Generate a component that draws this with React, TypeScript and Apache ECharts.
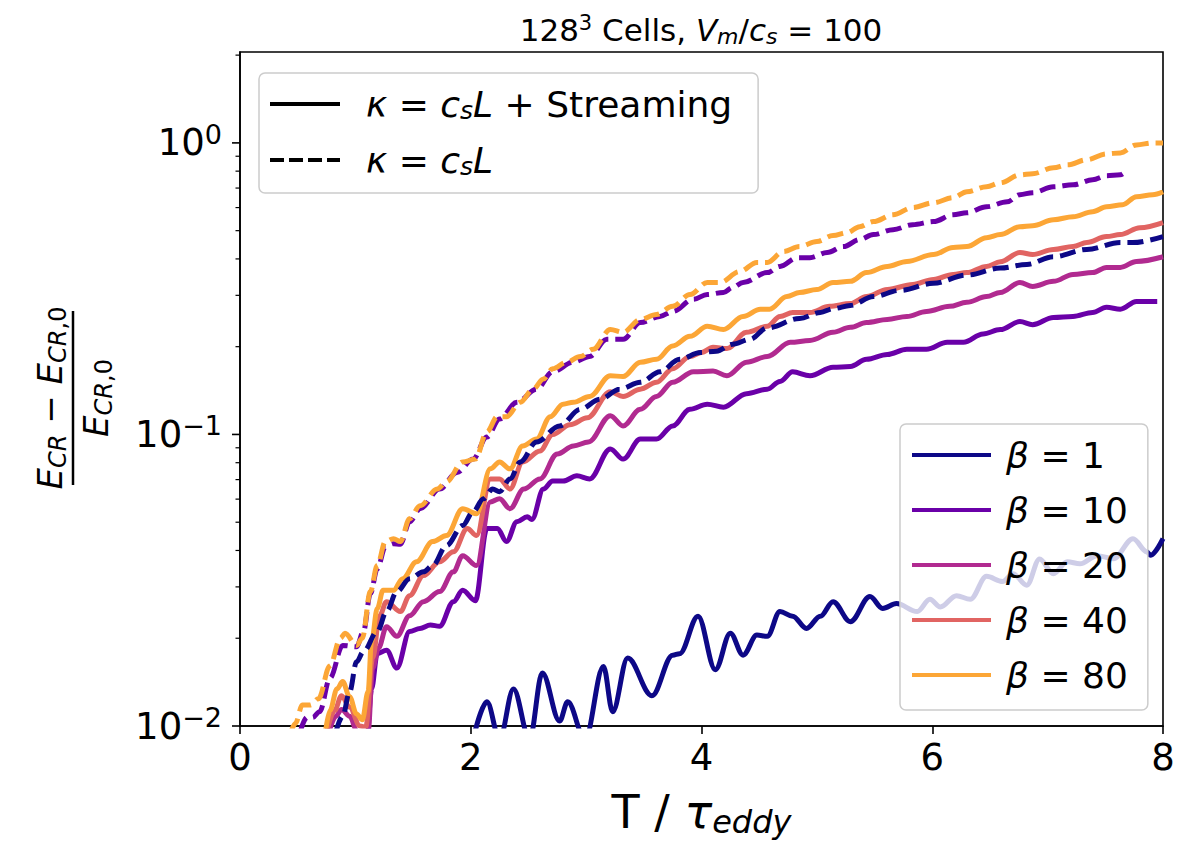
import React, { useEffect, useRef } from 'react';
import * as echarts from 'echarts';

const FONT = "'DejaVu Sans', sans-serif";

const betaLabels = ['β = 1', 'β = 10', 'β = 20', 'β = 40', 'β = 80'];
const betaColors = ['#0d0887', '#6a00a8', '#b12a90', '#e16462', '#fca636'];
const xTickValues = [0, 2, 4, 6, 8];
const yMajorTicks = [0.01, 0.1, 1];
const yMinorTicks = [0.02, 0.03, 0.04, 0.05, 0.06, 0.07, 0.08, 0.09, 0.2, 0.3, 0.4, 0.5, 0.6, 0.7, 0.8, 0.9, 2];

// κ = c_s L + Streaming
const streamB1: [number, number][] = [
  [2.02, 0.009], [2.14, 0.0121], [2.25, 0.009], [2.37, 0.0134], [2.51, 0.009], [2.62, 0.0152], [2.77, 0.0104], [2.84, 0.0121],
  [2.99, 0.009], [3.15, 0.016], [3.23, 0.0112], [3.36, 0.0171], [3.57, 0.0127], [3.75, 0.0175], [3.81, 0.0177], [3.97, 0.0238],
  [4.12, 0.0156], [4.25, 0.0208], [4.36, 0.0175], [4.48, 0.0205], [4.57, 0.0203], [4.68, 0.0247], [4.79, 0.0238], [4.91, 0.0216],
  [5.03, 0.0238], [5.14, 0.0267], [5.29, 0.0228], [5.46, 0.0278], [5.57, 0.0253], [5.69, 0.0263], [5.87, 0.0247], [5.98, 0.0272],
  [6.07, 0.0256], [6.21, 0.028], [6.33, 0.0272], [6.47, 0.0326], [6.61, 0.0313], [6.7, 0.0333], [6.82, 0.0304], [6.93, 0.0374],
  [7.05, 0.0333], [7.17, 0.0366], [7.28, 0.036], [7.43, 0.0384], [7.57, 0.0375], [7.74, 0.0439], [7.86, 0.0396], [7.89, 0.0385],
  [8.0, 0.0439],
];
const streamB10: [number, number][] = [
  [1.11, 0.0095], [1.14, 0.0134], [1.19, 0.0177], [1.27, 0.0182], [1.36, 0.0158], [1.47, 0.0211], [1.56, 0.0216], [1.65, 0.0222],
  [1.73, 0.022], [1.85, 0.0267], [1.93, 0.0292], [2.04, 0.0269], [2.14, 0.0476], [2.23, 0.0476], [2.31, 0.0429], [2.4, 0.0502],
  [2.49, 0.0522], [2.53, 0.0511], [2.63, 0.065], [2.71, 0.0692], [2.8, 0.0692], [2.92, 0.0721], [3.03, 0.0704], [3.21, 0.0892],
  [3.32, 0.0823], [3.47, 0.0964], [3.61, 0.0964], [3.75, 0.107], [3.9, 0.122], [4.05, 0.127], [4.19, 0.124], [4.39, 0.138],
  [4.57, 0.143], [4.68, 0.152], [4.79, 0.164], [4.94, 0.159], [5.14, 0.17], [5.29, 0.171], [5.43, 0.181], [5.61, 0.188],
  [5.78, 0.196], [5.95, 0.196], [6.13, 0.207], [6.27, 0.207], [6.44, 0.221], [6.59, 0.229], [6.76, 0.244], [6.87, 0.238],
  [7.05, 0.252], [7.22, 0.254], [7.39, 0.262], [7.51, 0.273], [7.63, 0.269], [7.77, 0.286], [7.95, 0.286],
];
const streamB20: [number, number][] = [
  [0.77, 0.0095], [0.83, 0.0108], [0.88, 0.0114], [0.95, 0.0108], [1.02, 0.0095], [1.11, 0.0095], [1.15, 0.0158], [1.2, 0.0185],
  [1.27, 0.0219], [1.36, 0.0203], [1.47, 0.0239], [1.59, 0.0267], [1.73, 0.0289], [1.85, 0.0338], [1.93, 0.0384], [2.05, 0.0355],
  [2.17, 0.0587], [2.25, 0.0602], [2.34, 0.0556], [2.46, 0.065], [2.6, 0.0704], [2.75, 0.0857], [2.89, 0.0913], [3.02, 0.0942],
  [3.21, 0.116], [3.32, 0.107], [3.47, 0.122], [3.61, 0.135], [3.75, 0.151], [3.93, 0.164], [4.1, 0.165], [4.22, 0.159],
  [4.39, 0.177], [4.57, 0.185], [4.77, 0.207], [4.94, 0.21], [5.14, 0.224], [5.29, 0.233], [5.43, 0.242], [5.61, 0.248],
  [5.78, 0.254], [5.95, 0.264], [6.15, 0.275], [6.3, 0.284], [6.47, 0.297], [6.59, 0.307], [6.76, 0.332], [6.87, 0.322],
  [7.05, 0.335], [7.22, 0.354], [7.39, 0.359], [7.51, 0.374], [7.63, 0.374], [7.77, 0.392], [8.0, 0.407],
];
const streamB40: [number, number][] = [
  [0.75, 0.0095], [0.82, 0.0113], [0.88, 0.0127], [0.95, 0.0116], [1.04, 0.01], [1.09, 0.0099], [1.15, 0.0171], [1.21, 0.0239],
  [1.27, 0.0267], [1.39, 0.0247], [1.47, 0.028], [1.59, 0.0328], [1.73, 0.0366], [1.85, 0.0396], [1.97, 0.0476], [2.05, 0.045],
  [2.17, 0.0704], [2.25, 0.0704], [2.34, 0.065], [2.45, 0.0805], [2.6, 0.0878], [2.71, 0.1], [2.86, 0.108], [3.01, 0.114],
  [3.21, 0.14], [3.32, 0.135], [3.47, 0.143], [3.61, 0.151], [3.75, 0.168], [3.9, 0.185], [4.0, 0.191], [4.1, 0.199],
  [4.22, 0.197], [4.39, 0.224], [4.57, 0.235], [4.68, 0.254], [4.79, 0.262], [4.94, 0.262], [5.11, 0.275], [5.29, 0.281],
  [5.43, 0.297], [5.61, 0.314], [5.83, 0.327], [6.01, 0.34], [6.18, 0.354], [6.3, 0.359], [6.47, 0.377], [6.59, 0.391],
  [6.76, 0.421], [6.87, 0.414], [7.05, 0.431], [7.22, 0.441], [7.34, 0.455], [7.51, 0.477], [7.63, 0.485], [7.8, 0.512],
  [8.0, 0.533],
];
const streamB80: [number, number][] = [
  [0.74, 0.0095], [0.78, 0.0113], [0.84, 0.0134], [0.89, 0.0142], [0.95, 0.0126], [1.01, 0.011], [1.06, 0.0105], [1.11, 0.0131],
  [1.14, 0.0195], [1.19, 0.0253], [1.24, 0.0292], [1.33, 0.0292], [1.41, 0.032], [1.53, 0.0366], [1.67, 0.0429], [1.79, 0.045],
  [1.93, 0.0556], [2.05, 0.0535], [2.17, 0.0762], [2.25, 0.0805], [2.34, 0.0762], [2.45, 0.0913], [2.57, 0.0964], [2.69, 0.115],
  [2.8, 0.127], [2.89, 0.129], [3.03, 0.135], [3.21, 0.159], [3.32, 0.158], [3.47, 0.177], [3.61, 0.181], [3.75, 0.201],
  [3.9, 0.217], [4.05, 0.235], [4.19, 0.229], [4.36, 0.254], [4.51, 0.269], [4.59, 0.269], [4.74, 0.297], [4.85, 0.307],
  [5.0, 0.314], [5.14, 0.332], [5.29, 0.335], [5.43, 0.359], [5.61, 0.377], [5.78, 0.392], [6.01, 0.414], [6.18, 0.438],
  [6.3, 0.441], [6.47, 0.473], [6.59, 0.485], [6.76, 0.516], [6.87, 0.52], [7.05, 0.545], [7.22, 0.558], [7.39, 0.581],
  [7.51, 0.604], [7.65, 0.614], [7.77, 0.654], [7.91, 0.664], [8.0, 0.68],
];

// κ = c_s L (no streaming)
const diffB1: [number, number][] = [
  [0.83, 0.0095], [0.89, 0.0108], [0.95, 0.0131], [1.01, 0.0166], [1.07, 0.018], [1.19, 0.0211], [1.27, 0.0247], [1.36, 0.0289],
  [1.47, 0.032], [1.59, 0.0338], [1.67, 0.0355], [1.79, 0.0416], [1.93, 0.0487], [2.02, 0.0543], [2.11, 0.0602], [2.19, 0.065],
  [2.25, 0.0636], [2.34, 0.0704], [2.43, 0.0805], [2.57, 0.0942], [2.77, 0.107], [2.95, 0.122], [3.12, 0.132], [3.29, 0.143],
  [3.47, 0.151], [3.64, 0.164], [3.81, 0.181], [3.99, 0.191], [4.13, 0.193], [4.27, 0.204], [4.42, 0.212], [4.57, 0.232],
  [4.85, 0.25], [5.03, 0.262], [5.14, 0.27], [5.29, 0.277], [5.49, 0.297], [5.72, 0.312], [6.01, 0.33], [6.3, 0.352],
  [6.59, 0.372], [6.82, 0.383], [7.05, 0.407], [7.34, 0.431], [7.63, 0.455], [7.74, 0.455], [8.0, 0.477],
];
const diffB10: [number, number][] = [
  [0.52, 0.0095], [0.58, 0.0107], [0.63, 0.0107], [0.69, 0.0112], [0.78, 0.0146], [0.89, 0.0189], [1.01, 0.0187], [1.07, 0.0211],
  [1.13, 0.0284], [1.19, 0.0346], [1.26, 0.0412], [1.33, 0.0422], [1.39, 0.042], [1.47, 0.0502], [1.56, 0.0556], [1.73, 0.065],
  [1.88, 0.074], [2.02, 0.0823], [2.14, 0.098], [2.25, 0.113], [2.4, 0.129], [2.57, 0.143], [2.71, 0.164], [2.89, 0.177],
  [3.03, 0.185], [3.18, 0.212], [3.32, 0.212], [3.47, 0.242], [3.64, 0.254], [3.75, 0.264], [3.93, 0.291], [4.05, 0.302],
  [4.19, 0.307], [4.27, 0.319], [4.36, 0.332], [4.57, 0.359], [4.68, 0.377], [4.83, 0.404], [4.94, 0.404], [5.09, 0.421],
  [5.23, 0.441], [5.37, 0.466], [5.49, 0.485], [5.66, 0.504], [5.83, 0.524], [6.01, 0.537], [6.18, 0.567], [6.3, 0.576],
  [6.47, 0.604], [6.65, 0.628], [6.76, 0.664], [6.87, 0.675], [7.05, 0.707], [7.22, 0.718], [7.39, 0.747], [7.51, 0.771],
  [7.63, 0.777], [7.69, 0.809],
];
const diffB80: [number, number][] = [
  [0.44, 0.0095], [0.48, 0.0102], [0.54, 0.0118], [0.61, 0.0118], [0.68, 0.0124], [0.78, 0.0161], [0.87, 0.02], [0.91, 0.0208],
  [1.01, 0.0189], [1.06, 0.02], [1.13, 0.0289], [1.19, 0.0355], [1.26, 0.0429], [1.33, 0.0439], [1.39, 0.0429], [1.47, 0.0514],
  [1.56, 0.0569], [1.71, 0.065], [1.79, 0.0688], [1.93, 0.0805], [2.04, 0.0823], [2.14, 0.102], [2.23, 0.115], [2.31, 0.115],
  [2.43, 0.129], [2.54, 0.143], [2.63, 0.155], [2.71, 0.168], [2.83, 0.177], [2.95, 0.185], [3.06, 0.196], [3.21, 0.229],
  [3.32, 0.224], [3.47, 0.248], [3.61, 0.258], [3.75, 0.275], [3.9, 0.302], [4.05, 0.332], [4.16, 0.332], [4.33, 0.362],
  [4.48, 0.389], [4.57, 0.389], [4.71, 0.424], [4.85, 0.441], [5.0, 0.459], [5.14, 0.481], [5.26, 0.492], [5.37, 0.516],
  [5.49, 0.537], [5.66, 0.567], [5.83, 0.6], [6.01, 0.623], [6.18, 0.649], [6.3, 0.68], [6.47, 0.707], [6.59, 0.73],
  [6.76, 0.777], [6.87, 0.784], [7.05, 0.821], [7.17, 0.841], [7.34, 0.875], [7.51, 0.917], [7.63, 0.924], [7.77, 0.984],
  [7.91, 1.0], [8.0, 1.0],
];

const streamSeries = [streamB1, streamB10, streamB20, streamB40, streamB80];
const diffSeries: { beta: number; data: [number, number][] }[] = [
  { beta: 0, data: diffB1 },
  { beta: 1, data: diffB10 },
  { beta: 4, data: diffB80 },
];

const modelLabels = ['stream', 'diff'];

const DASH_ICON = 'path://M0,0H14V4H0Z M19,0H33V4H19Z M38,0H52V4H38Z M57,0H70V4H57Z';

export default function App() {
  const ref = useRef<HTMLDivElement>(null);

  useEffect(() => {
    const chart = echarts.init(ref.current as HTMLDivElement, null, { renderer: 'svg' });

    const series: any[] = [];
    streamSeries.forEach((d, i) => {
      series.push({
        type: 'line',
        name: betaLabels[i],
        data: d,
        showSymbol: false,
        symbol: 'none',
        smooth: 0.35,
        smoothMonotone: 'x',
        clip: true,
        itemStyle: { color: betaColors[i] },
        lineStyle: { color: betaColors[i], width: 5 },
        z: 2,
      });
    });
    diffSeries.forEach((s) => {
      series.push({
        type: 'line',
        name: betaLabels[s.beta] + ' (diffusion only)',
        data: s.data,
        showSymbol: false,
        symbol: 'none',
        smooth: 0.35,
        smoothMonotone: 'x',
        clip: true,
        itemStyle: { color: betaColors[s.beta] },
        lineStyle: { color: betaColors[s.beta], width: 5, type: [16, 7] },
        z: 2,
      });
    });
    series.push({
      type: 'line', name: 'stream', data: [], symbol: 'none',
      itemStyle: { color: '#000' }, lineStyle: { color: '#000', width: 4 },
    });
    series.push({
      type: 'line', name: 'diff', data: [], symbol: 'none',
      itemStyle: { color: '#000' }, lineStyle: { color: '#000', width: 4 },
    });
    const tickData = [
      ...yMajorTicks.map((v) => [0, v, 1]),
      ...yMinorTicks.map((v) => [0, v, 0]),
    ];
    series.push({
      type: 'custom',
      name: 'yticks',
      silent: true,
      clip: false,
      data: tickData,
      encode: { x: 0, y: 1 },
      renderItem: (params: any, api: any) => {
        const p = api.coord([api.value(0), api.value(1)]);
        const major = api.value(2) === 1;
        const len = major ? 8 : 4.5;
        return {
          type: 'line',
          shape: { x1: p[0] - len, y1: p[1], x2: p[0], y2: p[1] },
          style: { stroke: '#000', lineWidth: major ? 1.6 : 1.2 },
        };
      },
      z: 5,
    });

    const LEG_FS = 36;

    const option: any = {
      animation: false,
      backgroundColor: '#ffffff',
      textStyle: { fontFamily: FONT },
      grid: {
        left: 240, right: 27, top: 52, bottom: 115,
        show: true, borderColor: '#000', borderWidth: 1.6, backgroundColor: 'transparent',
      },
      xAxis: {
        type: 'value', min: 0, max: 8, interval: 2,
        axisLine: { show: true, onZero: false, lineStyle: { color: '#000', width: 1.6 } },
        axisTick: { show: true, length: 8, lineStyle: { color: '#000', width: 1.6 } },
        axisLabel: {
          fontSize: 37, color: '#000', fontFamily: FONT, margin: 13,
          formatter: (v: number) => (xTickValues.includes(v) ? String(v) : ''),
        },
        splitLine: { show: false },
        name: 'T / {i|τ}{s|eddy}',
        nameLocation: 'middle',
        nameGap: 60,
        nameTextStyle: {
          fontSize: 46, color: '#000', fontFamily: FONT,
          rich: {
            i: { fontSize: 46, fontStyle: 'italic', fontFamily: FONT, lineHeight: 52 },
            s: { fontSize: 32, fontStyle: 'italic', fontFamily: FONT, verticalAlign: 'bottom', lineHeight: 20 },
          },
        },
      },
      yAxis: {
        type: 'log', logBase: 10, min: 0.01, max: 2.05,
        axisLine: { show: true, lineStyle: { color: '#000', width: 1.6 } },
        axisTick: { show: false },
        minorTick: { show: false },
        splitLine: { show: false },
        axisLabel: {
          color: '#000', fontFamily: FONT, margin: 18,
          showMaxLabel: false,
          formatter: (v: number) => {
            const lg = Math.log10(v);
            const e = Math.round(lg);
            if (Math.abs(lg - e) > 0.01) return '';
            const es = e < 0 ? '−' + String(-e) : String(e);
            return '{b|10}{sup|' + es + '}';
          },
          rich: {
            b: { fontSize: 37, fontFamily: FONT, color: '#000', lineHeight: 44 },
            sup: { fontSize: 27, fontFamily: FONT, color: '#000', verticalAlign: 'top', lineHeight: 18 },
          },
        },
      },
      legend: [
        {
          orient: 'vertical',
          left: 259, top: 73,
          data: [
            { name: modelLabels[0], icon: 'rect' },
            { name: modelLabels[1], icon: DASH_ICON },
          ],
          selectedMode: false,
          itemWidth: 70, itemHeight: 4, itemGap: 18,
          padding: [12, 26, 14, 11],
          backgroundColor: 'rgba(255,255,255,0.8)',
          borderColor: '#cccccc', borderWidth: 1.5, borderRadius: 6,
          formatter: (name: string) =>
            name === 'stream' ? '{i|κ} = {i|c}{s|s}{i|L} + Streaming' : '{i|κ} = {i|c}{s|s}{i|L}',
          textStyle: {
            fontFamily: FONT, fontSize: LEG_FS, color: '#000', lineHeight: 38, padding: [0, 0, 0, 21],
            rich: {
              i: { fontFamily: FONT, fontSize: LEG_FS, fontStyle: 'italic', color: '#000', lineHeight: 38 },
              s: { fontFamily: FONT, fontStyle: 'italic', fontSize: 25, verticalAlign: 'bottom', lineHeight: 12, color: '#000' },
            },
          },
        },
        {
          orient: 'vertical',
          left: 900, top: 424,
          data: betaLabels.map((n) => ({ name: n, icon: 'rect' })),
          selectedMode: false,
          itemWidth: 79, itemHeight: 4, itemGap: 17,
          padding: [12, 20, 16, 12],
          backgroundColor: 'rgba(255,255,255,0.8)',
          borderColor: '#cccccc', borderWidth: 1.5, borderRadius: 6,
          formatter: (name: string) => '{i|β}' + name.slice(1),
          textStyle: {
            fontFamily: FONT, fontSize: LEG_FS, color: '#000', lineHeight: 38, padding: [0, 0, 0, 10],
            rich: {
              i: { fontFamily: FONT, fontSize: LEG_FS, fontStyle: 'italic', color: '#000', lineHeight: 38 },
            },
          },
        },
      ],
      graphic: [
        {
          type: 'text',
          x: 701, y: 30,
          style: {
            text: '128{sup|3} Cells, {i|V}{s|m}/{i|c}{s|s} = 100',
            font: '31px ' + FONT,
            fill: '#000',
            align: 'center',
            verticalAlign: 'middle',
            rich: {
              sup: { fontSize: 21, fontFamily: FONT, verticalAlign: 'top', lineHeight: 12 },
              i: { fontSize: 31, fontFamily: FONT, fontStyle: 'italic', lineHeight: 35 },
              s: { fontSize: 22, fontFamily: FONT, fontStyle: 'italic', verticalAlign: 'bottom', lineHeight: 12 },
            },
          },
        },
        {
          type: 'text',
          x: 73, y: 398,
          rotation: Math.PI / 2,
          style: {
            text: '{E|E}{s|CR}{m| − }{E|E}{s|CR}{u|,0}\n{bar| }\n{E|E}{s|CR}{u|,0}',
            fill: '#000',
            align: 'center',
            verticalAlign: 'middle',
            rich: {
              E: { fontSize: 34, fontFamily: FONT, fontStyle: 'italic', lineHeight: 40, align: 'center' },
              m: { fontSize: 34, fontFamily: FONT, lineHeight: 40, align: 'center' },
              s: { fontSize: 24, fontFamily: FONT, fontStyle: 'italic', verticalAlign: 'bottom', lineHeight: 16, align: 'center' },
              u: { fontSize: 24, fontFamily: FONT, verticalAlign: 'bottom', lineHeight: 16, align: 'center' },
              bar: { width: 174, height: 2.5, backgroundColor: '#000', lineHeight: 6, fontSize: 4, align: 'center' },
            },
          },
        },
      ],
      series,
    };

    chart.setOption(option);
    return () => chart.dispose();
  }, []);

  return (
    <div
      ref={ref}
      style={{ position: 'fixed', left: 0, top: 0, width: 1190, height: 843, background: '#ffffff' }}
    />
  );
}
